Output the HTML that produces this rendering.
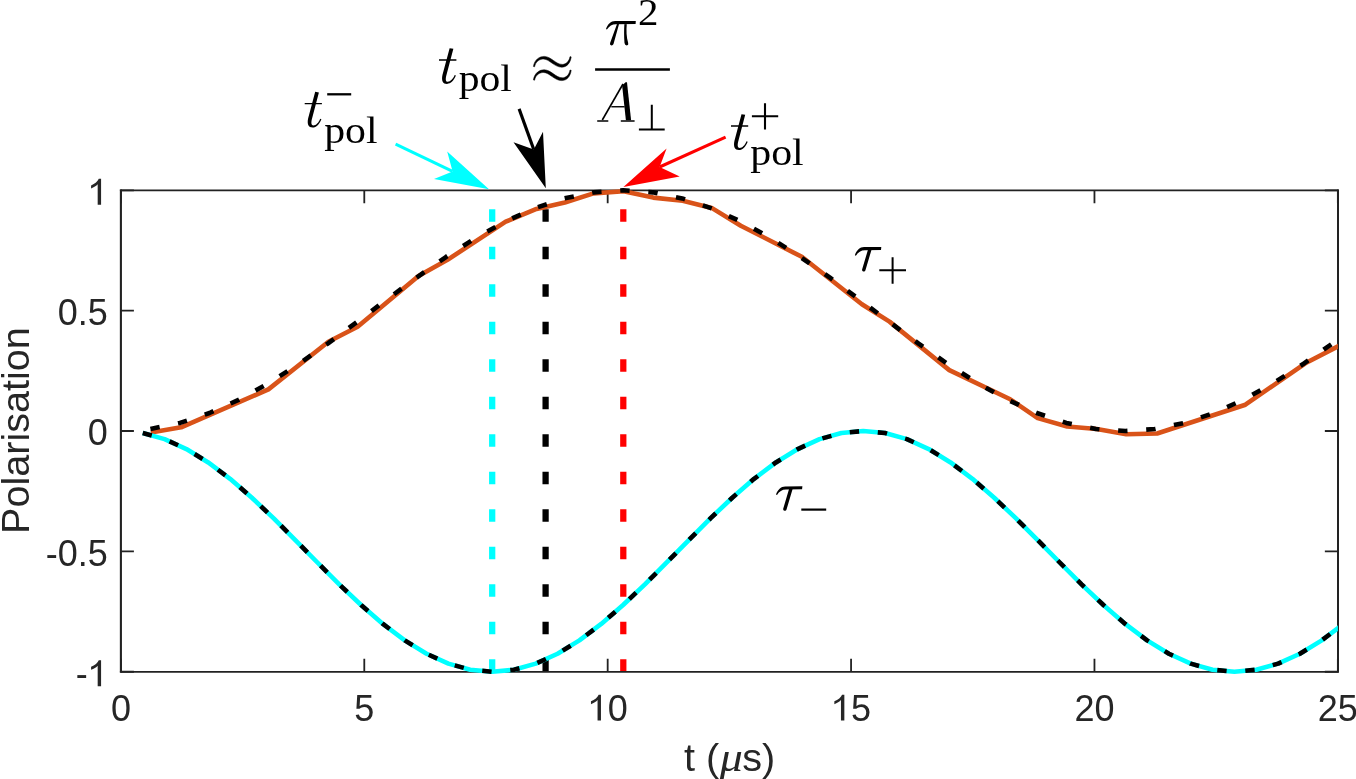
<!DOCTYPE html>
<html><head><meta charset="utf-8"><title>Polarisation</title>
<style>html,body{margin:0;padding:0;background:#fff;}svg{display:block;font-family:"Liberation Sans",sans-serif;}</style>
</head><body>
<svg style="will-change:transform" width="1356" height="779" viewBox="0 0 1356 779">
<rect x="0" y="0" width="1356" height="779" fill="#fff"/>
<line x1="492.2" y1="671.75" x2="492.2" y2="190.3" stroke="#00ffff" stroke-width="6.25" stroke-dasharray="12.5 25"/>
<line x1="545.6" y1="671.75" x2="545.6" y2="190.3" stroke="#000000" stroke-width="6.25" stroke-dasharray="12.5 25"/>
<line x1="623.3" y1="671.75" x2="623.3" y2="190.3" stroke="#ff0000" stroke-width="6.25" stroke-dasharray="12.5 25"/>
<path d="M120.9 189.45000000000002V672.6" stroke="#222222" stroke-width="2.1" fill="none"/>
<path d="M1338 189.45000000000002V672.6" stroke="#222222" stroke-width="2.0" fill="none"/>
<path d="M119.9 190.3H1338.85" stroke="#222222" stroke-width="1.7" fill="none"/>
<path d="M119.9 671.8H1338.85" stroke="#222222" stroke-width="1.8" fill="none"/>
<path d="M120.90 671.75V658.75M120.90 190.3V203.3M364.29 671.75V658.75M364.29 190.3V203.3M607.68 671.75V658.75M607.68 190.3V203.3M851.07 671.75V658.75M851.07 190.3V203.3M1094.46 671.75V658.75M1094.46 190.3V203.3M1337.85 671.75V658.75M1337.85 190.3V203.3M120.9 671.75H133.9M1337.85 671.75H1324.85M120.9 551.39H133.9M1337.85 551.39H1324.85M120.9 431.02H133.9M1337.85 431.02H1324.85M120.9 310.66H133.9M1337.85 310.66H1324.85M120.9 190.30H133.9M1337.85 190.30H1324.85" stroke="#222222" stroke-width="1.8" fill="none"/>
<clipPath id="ax"><rect x="120.9" y="187.3" width="1216.9499999999998" height="487.45"/></clipPath>
<g clip-path="url(#ax)" fill="none" stroke-linejoin="round">
<polyline points="150.90,432.40 181.10,427.30 268.40,389.40 328.40,341.80 357.60,326.80 418.50,275.90 447.50,259.80 505.70,221.70 536.50,208.90 564.80,202.50 593.50,193.40 623.60,191.20 653.20,197.60 682.70,200.80 711.60,207.90 740.80,225.70 801.80,256.80 861.90,304.30 889.50,321.60 949.30,370.10 1010.20,399.30 1037.70,418.10 1067.20,426.50 1096.80,429.00 1126.30,434.20 1157.10,433.50 1245.40,404.70 1305.30,363.30 1338.00,346.30 1362.00,333.60" stroke="#d95319" stroke-width="4.6"/>
<polyline points="150.44,428.98 179.99,422.90 209.53,413.00 239.08,399.61 268.62,383.20 298.17,364.31 327.71,343.60 357.26,321.77 386.80,299.56 416.35,277.72 445.89,257.01 475.44,238.13 504.98,221.71 534.53,208.33 564.07,198.43 593.61,192.35 623.16,190.30 652.70,192.35 682.25,198.43 711.79,208.33 741.34,221.71 770.88,238.13 800.43,257.01 829.97,277.72 859.52,299.56 889.06,321.77 918.61,343.60 948.15,364.31 977.70,383.20 1007.24,399.61 1036.79,413.00 1066.33,422.90 1095.87,428.98 1125.42,431.02 1154.96,428.98 1184.51,422.90 1214.05,413.00 1243.60,399.61 1273.14,383.20 1302.69,364.31 1332.23,343.60 1361.78,321.77" stroke="#000" stroke-width="4.6" stroke-dasharray="9.378 18.756"/>
<polyline points="142.73,433.07 164.57,439.15 186.40,449.05 208.23,462.44 230.07,478.85 251.90,497.74 273.73,518.45 295.57,540.28 317.40,562.49 339.24,584.33 361.07,605.04 382.90,623.92 404.74,640.34 426.57,653.72 448.40,663.62 470.24,669.70 492.07,671.75 513.90,669.70 535.74,663.62 557.57,653.72 579.40,640.34 601.24,623.92 623.07,605.04 644.90,584.33 666.74,562.49 688.57,540.28 710.40,518.45 732.24,497.74 754.07,478.85 775.91,462.44 797.74,449.05 819.57,439.15 841.41,433.07 863.24,431.02 885.07,433.07 906.91,439.15 928.74,449.05 950.57,462.44 972.41,478.85 994.24,497.74 1016.07,518.45 1037.91,540.28 1059.74,562.49 1081.57,584.33 1103.41,605.04 1125.24,623.92 1147.08,640.34 1168.91,653.72 1190.74,663.62 1212.58,669.70 1234.41,671.75 1256.24,669.70 1278.08,663.62 1299.91,653.72 1321.74,640.34 1343.58,623.92" stroke="#00ffff" stroke-width="4.6"/>
<polyline points="142.73,433.07 164.57,439.15 186.40,449.05 208.23,462.44 230.07,478.85 251.90,497.74 273.73,518.45 295.57,540.28 317.40,562.49 339.24,584.33 361.07,605.04 382.90,623.92 404.74,640.34 426.57,653.72 448.40,663.62 470.24,669.70 492.07,671.75 513.90,669.70 535.74,663.62 557.57,653.72 579.40,640.34 601.24,623.92 623.07,605.04 644.90,584.33 666.74,562.49 688.57,540.28 710.40,518.45 732.24,497.74 754.07,478.85 775.91,462.44 797.74,449.05 819.57,439.15 841.41,433.07 863.24,431.02 885.07,433.07 906.91,439.15 928.74,449.05 950.57,462.44 972.41,478.85 994.24,497.74 1016.07,518.45 1037.91,540.28 1059.74,562.49 1081.57,584.33 1103.41,605.04 1125.24,623.92 1147.08,640.34 1168.91,653.72 1190.74,663.62 1212.58,669.70 1234.41,671.75 1256.24,669.70 1278.08,663.62 1299.91,653.72 1321.74,640.34 1343.58,623.92" stroke="#000" stroke-width="4.6" stroke-dasharray="9.378 18.756"/>
</g>
<g font-family="Liberation Sans, sans-serif" font-size="36.0" fill="#262626">
<text x="120.90" y="720.6" text-anchor="middle">0</text>
<text x="364.29" y="720.6" text-anchor="middle">5</text>
<text x="1094.46" y="720.6" text-anchor="middle">20</text>
<text x="1337.85" y="720.6" text-anchor="middle">25</text>
<path transform="translate(587.66,720.60)" d="M13.3 0V-25.9H11.0C10.2 -23.5 7.0 -20.8 3.3 -19.3V-16.3C6.0 -17.3 8.6 -18.9 9.9 -20.5V0Z" fill="#262626"/>
<text x="607.68" y="720.6">0</text>
<path transform="translate(831.05,720.60)" d="M13.3 0V-25.9H11.0C10.2 -23.5 7.0 -20.8 3.3 -19.3V-16.3C6.0 -17.3 8.6 -18.9 9.9 -20.5V0Z" fill="#262626"/>
<text x="851.07" y="720.6">5</text>
<text x="107.8" y="325.06" text-anchor="end">0.5</text>
<text x="107.8" y="445.42" text-anchor="end">0</text>
<text x="107.8" y="565.79" text-anchor="end">-0.5</text>
<path transform="translate(87.78,204.70)" d="M13.3 0V-25.9H11.0C10.2 -23.5 7.0 -20.8 3.3 -19.3V-16.3C6.0 -17.3 8.6 -18.9 9.9 -20.5V0Z" fill="#262626"/>
<path transform="translate(87.78,686.15)" d="M13.3 0V-25.9H11.0C10.2 -23.5 7.0 -20.8 3.3 -19.3V-16.3C6.0 -17.3 8.6 -18.9 9.9 -20.5V0Z" fill="#262626"/>
<text x="75.79" y="686.15">-</text>
</g>
<text transform="translate(29.2,430.6) rotate(-90)" text-anchor="middle" font-family="Liberation Sans, sans-serif" font-size="39.6" fill="#262626">Polarisation</text>
<text x="684" y="771.1" font-family="Liberation Sans, sans-serif" font-size="39.6" fill="#262626">t (</text>
<text transform="translate(719.74,771.42) scale(1.1459,1)" font-family="Liberation Serif, serif" font-style="italic" font-size="40.13" fill="#262626">μ</text>
<text x="742.2" y="771.1" font-family="Liberation Sans, sans-serif" font-size="39.6" fill="#262626">s)</text>
<line x1="395.6" y1="144.2" x2="452.6" y2="171.4" stroke="#00ffff" stroke-width="3.1"/><polygon points="489.0,189.2 447.2,151.5 452.6,171.4 434.0,179.1" fill="#00ffff"/>
<line x1="519.1" y1="108.9" x2="533.8" y2="149.6" stroke="#000" stroke-width="3.1"/><polygon points="545.8,188.3 543.0,131.8 533.8,149.6 513.5,142.3" fill="#000"/>
<line x1="725.6" y1="137.2" x2="659.6" y2="167.0" stroke="#ff0000" stroke-width="3.1"/><polygon points="623.4,187.0 666.6,148.5 659.6,167.0 679.7,176.4" fill="#ff0000"/>
<path transform="translate(304.7,91.6) scale(1.0000,1.0000)" d="M10.5 0.2L14.2 0.8L7.1 28.0C6.3 31.6 6.7 33.9 8.7 33.9C11.3 33.9 13.9 31.2 15.5 27.2L16.7 27.7C14.8 32.5 11.7 36.0 7.9 36.0C3.9 36.0 2.2 32.8 3.4 27.0Z M0.0 11.3H17.2V12.7H0.0Z" fill="#000"/>
<line x1="327.2" y1="94.3" x2="351.2" y2="94.3" stroke="#000" stroke-width="2.3"/>
<text transform="translate(324.13,142.70) scale(1.1284,1)" font-family="Liberation Serif, serif" font-style="normal" font-size="37.04" fill="#000">pol</text>
<path transform="translate(439.0,48.0) scale(1.0118,0.9972)" d="M10.5 0.2L14.2 0.8L7.1 28.0C6.3 31.6 6.7 33.9 8.7 33.9C11.3 33.9 13.9 31.2 15.5 27.2L16.7 27.7C14.8 32.5 11.7 36.0 7.9 36.0C3.9 36.0 2.2 32.8 3.4 27.0Z M0.0 11.3H17.2V12.7H0.0Z" fill="#000"/>
<text transform="translate(458.63,91.10) scale(1.1241,1)" font-family="Liberation Serif, serif" font-style="normal" font-size="37.04" fill="#000">pol</text>
<path d="M533.4 66.5C534.5 59.5 539.5 56.2 544.5 56.4C551 56.6 556 64.4 562.3 64.4C566 64.4 569.2 61.5 570.0 56.6L571.2 56.9C570.4 63 566.8 67.2 561.8 67.2C554.5 67.2 549.5 59.3 543.8 59.1C539.5 59 535.6 61.5 534.6 66.8Z" fill="#000" stroke="#000" stroke-width="0.5"/><path transform="translate(0,13.4)" d="M533.4 66.5C534.5 59.5 539.5 56.2 544.5 56.4C551 56.6 556 64.4 562.3 64.4C566 64.4 569.2 61.5 570.0 56.6L571.2 56.9C570.4 63 566.8 67.2 561.8 67.2C554.5 67.2 549.5 59.3 543.8 59.1C539.5 59 535.6 61.5 534.6 66.8Z" fill="#000" stroke="#000" stroke-width="0.5"/>
<path transform="translate(605.8,20.6)" d="M0.2 8.4C2.0 3.6 5.0 0.5 9.4 0.5L30 0.3L29.8 3.4L10.2 3.6C6.2 3.6 3.6 5.4 1.1 8.9ZM11.4 3.0L13.4 3.0L7.7 23.4Q6.9 25.2 5.2 24.7Q3.7 24.1 4.3 22.3ZM18.6 3.0L21.0 3.0C20.4 10 20.6 17 22.4 22.5Q23 24.6 21 24.8Q19 24.8 18.7 22.5C18.2 16 18.2 9 18.6 3Z" fill="#000"/>
<text transform="translate(638.10,24.90) scale(1.0966,1)" font-family="Liberation Serif, serif" font-style="normal" font-size="37.31" fill="#000">2</text>
<line x1="595.1" y1="69.45" x2="669.9" y2="69.45" stroke="#000" stroke-width="2.5"/>
<g fill="none" stroke="#000"><path d="M622.1 85.2L626.0 81.9L627.0 82.6L631.1 120.3L625.9 120.3Z" fill="#000" stroke="none"/><path d="M623.0 84.0L602.3 120.0" stroke-width="1.6"/><path d="M611.3 106.75H624.6" stroke-width="1.4"/><path d="M597.2 121.0H608.3M620.8 121.0H634.6" stroke-width="1.7"/></g>
<path d="M651.8 104.7V129.4M638.9 129.4H664.7" stroke="#000" stroke-width="2" fill="none"/>
<path transform="translate(731,114) scale(1.0000,1.0000)" d="M10.5 0.2L14.2 0.8L7.1 28.0C6.3 31.6 6.7 33.9 8.7 33.9C11.3 33.9 13.9 31.2 15.5 27.2L16.7 27.7C14.8 32.5 11.7 36.0 7.9 36.0C3.9 36.0 2.2 32.8 3.4 27.0Z M0.0 11.3H17.2V12.7H0.0Z" fill="#000"/>
<path d="M751.9 116.3H778.2M765 103.2V129.5" stroke="#000" stroke-width="2.1" fill="none"/>
<text transform="translate(750.23,164.80) scale(1.1306,1)" font-family="Liberation Serif, serif" font-style="normal" font-size="37.04" fill="#000">pol</text>
<g transform="translate(854.9,246.9)"><path d="M0 8.3C1.8 3.4 4.8 0.2 9.2 0.2L26.4 0L26.1 3.0L10 3.3C6 3.3 3.4 5.2 1.0 8.8Z" fill="#000"/><path d="M14.9 2.6L8.9 22.9" stroke="#000" stroke-width="3.4" stroke-linecap="round" fill="none"/></g>
<path d="M879.3 270.3H906M892.6 257.2V283.7" stroke="#000" stroke-width="2.0" fill="none"/>
<g transform="translate(776,486.2)"><path d="M0 8.3C1.8 3.4 4.8 0.2 9.2 0.2L26.4 0L26.1 3.0L10 3.3C6 3.3 3.4 5.2 1.0 8.8Z" fill="#000"/><path d="M14.9 2.6L8.9 22.9" stroke="#000" stroke-width="3.4" stroke-linecap="round" fill="none"/></g>
<line x1="801.3" y1="509.6" x2="826.2" y2="509.6" stroke="#000" stroke-width="2.2"/>
</svg>
</body></html>
